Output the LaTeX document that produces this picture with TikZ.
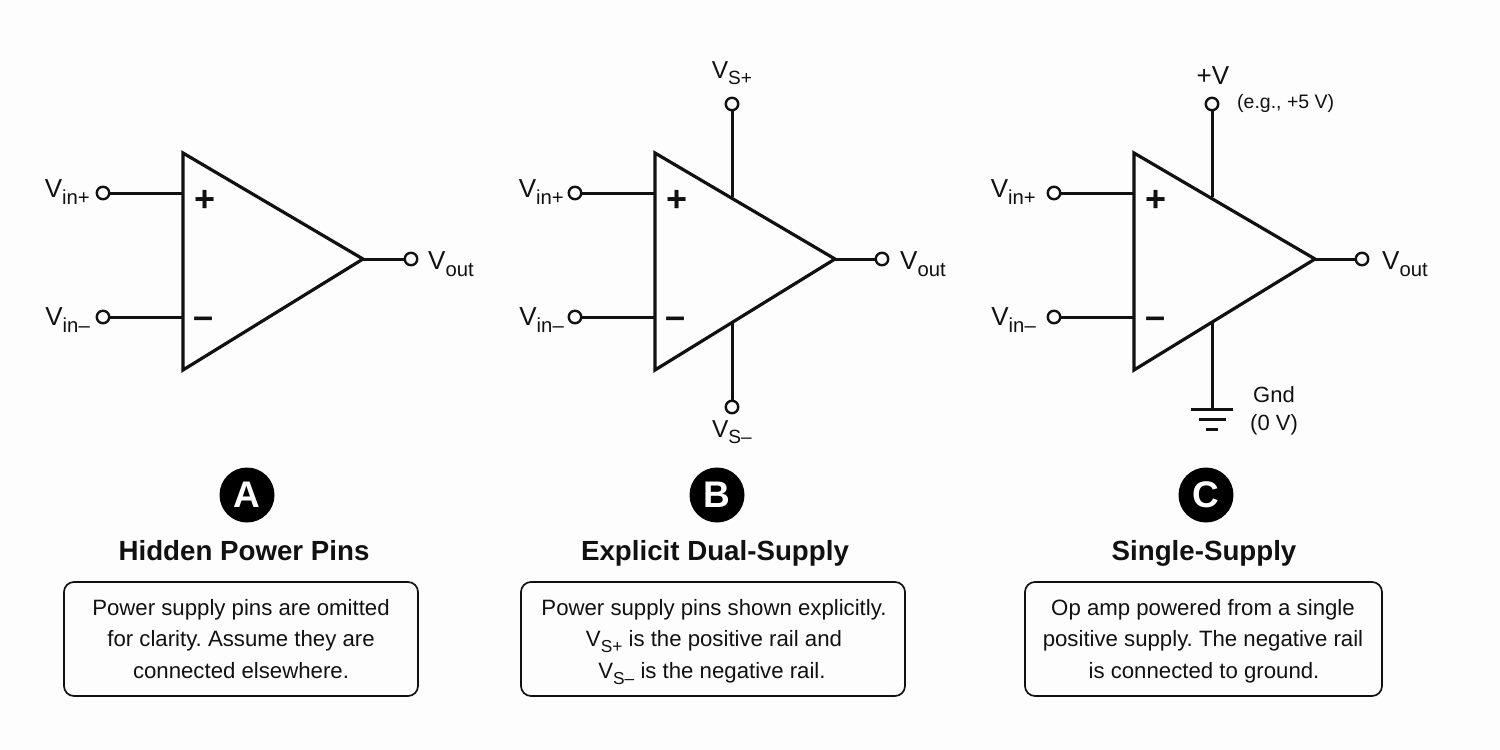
\documentclass[tikz,border=0pt]{standalone}
\usepackage{fontspec}
\setmainfont{Liberation Sans}
\definecolor{ink}{HTML}{111111}
\definecolor{paper}{HTML}{FDFDFD}
\newcommand{\lowtxt}[1]{\raisebox{-0.28em}{\scalebox{0.78}{#1}}}
\newcommand{\fsz}[1]{\fontsize{#1}{#1}\selectfont}
\tikzset{
  x=1pt,y=-1pt,
  wire/.style={draw=ink,line width=3pt},
  tri/.style={draw=ink,line width=3.2pt,line join=miter,fill=none},
  term/.style={circle,draw=ink,line width=2.4pt,fill=white,minimum size=12.5pt,inner sep=0pt},
  lab/.style={text=ink,font=\fsz{26},inner sep=0pt},
  rail/.style={text=ink,font=\fsz{24.5},inner sep=0pt},
  sign/.style={text=ink,font=\fsz{36}\bfseries,inner sep=0pt},
  small/.style={text=ink,font=\fsz{22},inner sep=0pt},
  badge/.style={circle,fill=black,text=white,minimum size=55pt,inner sep=0pt,font=\fsz{37}\bfseries},
  heading/.style={anchor=base,text=ink,font=\fsz{27.7}\bfseries,inner sep=0pt},
  descbox/.style={draw=ink,line width=1.7pt,rounded corners=10pt,fill=none},
  desc/.style={anchor=base,text=ink,font=\fsz{22.2}\frenchspacing,inner sep=0pt},
}
\begin{document}
\begin{tikzpicture}
\fill[paper] (0,0) rectangle (1500,750);
\useasboundingbox (0,0) rectangle (1500,750);

% A
\coordinate (a1) at (183,153); \coordinate (a2) at (183,370); \coordinate (a3) at (363,259);
\coordinate (aip) at (183,193); \coordinate (aim) at (183,317);
\node[term] (atp) at (103,193) {};
\node[term] (atm) at (103,317) {};
\node[term] (ato) at (411,259) {};
\draw[wire] (atp) -- (aip);
\draw[wire] (atm) -- (aim);
\draw[wire] (a3) -- (ato);
\draw[tri] (a1) -- (a2) -- (a3) -- cycle;
\node[sign] (aplus) at (205,201) {+};
\node[sign] (aminus) at (204,323) {–};
\node[lab,anchor=base east] (alp) at (90,197) {V\lowtxt{in+}};
\node[lab,anchor=base east] (alm) at (90,325) {V\lowtxt{in–}};
\node[lab,anchor=base west] (alo) at (428,269) {V\lowtxt{out}};
\node[badge] (ba) at (247,495) {A};
\node[heading] (ha) at (244,560) {Hidden Power Pins};
\node[descbox,minimum width=354pt,minimum height=114pt] (da) at (241,639) {};
\node[desc] (da1) at (241,615) {Power supply pins are omitted};
\node[desc] (da2) at (241,646) {for clarity. Assume they are};
\node[desc] (da3) at (241,678) {connected elsewhere.};

% B
\coordinate (b1) at (655,153); \coordinate (b2) at (655,370); \coordinate (b3) at (835,259);
\coordinate (bip) at (655,193); \coordinate (bim) at (655,317);
\coordinate (btop) at (732,197); \coordinate (bbot) at (732,323);
\node[term] (btp) at (575,193) {};
\node[term] (btm) at (575,317) {};
\node[term] (bto) at (882,259) {};
\node[term] (bts) at (732,104) {};
\node[term] (btn) at (732,407) {};
\draw[wire] (btp) -- (bip);
\draw[wire] (btm) -- (bim);
\draw[wire] (b3) -- (bto);
\draw[wire] (bts) -- (btop);
\draw[wire] (btn) -- (bbot);
\draw[tri] (b1) -- (b2) -- (b3) -- cycle;
\node[sign] (bplus) at (677,201) {+};
\node[sign] (bminus) at (676,323) {–};
\node[lab,anchor=base east] (blp) at (564,197) {V\lowtxt{in+}};
\node[lab,anchor=base east] (blm) at (564,325) {V\lowtxt{in–}};
\node[lab,anchor=base west] (blo) at (900,269) {V\lowtxt{out}};
\node[rail,anchor=base] (bls) at (732,78) {V\lowtxt{S+}};
\node[rail,anchor=base] (bln) at (732,437) {V\lowtxt{S–}};
\node[badge] (bb) at (717,495) {B};
\node[heading] (hb) at (715,560) {Explicit Dual-Supply};
\node[descbox,minimum width=384pt,minimum height=114pt] (db) at (713,639) {};
\node[desc] (db1) at (714,615) {Power supply pins shown explicitly.};
\node[desc] (db2) at (714,646) {V\lowtxt{S+} is the positive rail and};
\node[desc] (db3) at (712,678) {V\lowtxt{S–} is the negative rail.};

% C
\coordinate (c1) at (1134,153); \coordinate (c2) at (1134,370); \coordinate (c3) at (1315,259);
\coordinate (cip) at (1134,193); \coordinate (cim) at (1134,317);
\coordinate (ctop) at (1212,197); \coordinate (cbot) at (1212,323);
\coordinate (g1) at (1212,409);
\node[term] (ctp) at (1054,193) {};
\node[term] (ctm) at (1054,317) {};
\node[term] (cto) at (1362,259) {};
\node[term] (cts) at (1212,104) {};
\draw[wire] (ctp) -- (cip);
\draw[wire] (ctm) -- (cim);
\draw[wire] (c3) -- (cto);
\draw[wire] (cts) -- (ctop);
\draw[wire] (cbot) -- (g1);
\draw[tri] (c1) -- (c2) -- (c3) -- cycle;
\draw[wire] (1191,409) -- (1233,409);
\draw[wire] (1199,419) -- (1226,419);
\draw[wire] (1206,429) -- (1218,429);
\node[sign] (cplus) at (1156,201) {+};
\node[sign] (cminus) at (1155,323) {–};
\node[lab,anchor=base east] (clp) at (1036,197) {V\lowtxt{in+}};
\node[lab,anchor=base east] (clm) at (1036,325) {V\lowtxt{in–}};
\node[lab,anchor=base west] (clo) at (1382,269) {V\lowtxt{out}};
\node[lab,anchor=base] (cls) at (1213,84) {+V};
\node[text=ink,font=\fsz{19.5},inner sep=0pt,anchor=base west] (cle) at (1237,108) {(e.g., +5 V)};
\node[small,anchor=base] (clg) at (1274,402) {Gnd};
\node[small,anchor=base] (clz) at (1274,430) {(0 V)};
\node[badge] (bc) at (1206,495) {C};
\node[heading] (hc) at (1204,560) {Single-Supply};
\node[descbox,minimum width=357pt,minimum height=114pt] (dc) at (1203.5,639) {};
\node[desc] (dc1) at (1203,615) {Op amp powered from a single};
\node[desc] (dc2) at (1203,646) {positive supply. The negative rail};
\node[desc] (dc3) at (1204,678) {is connected to ground.};
\end{tikzpicture}
\end{document}
